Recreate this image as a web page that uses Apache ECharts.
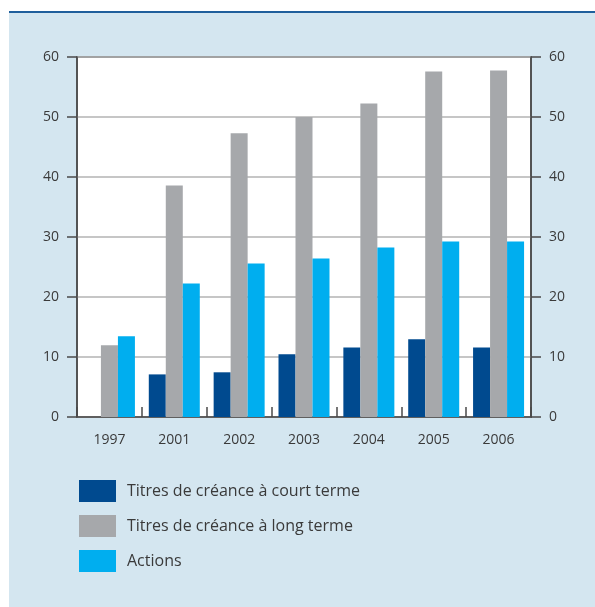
<!DOCTYPE html>
<html>
<head>
<meta charset="utf-8">
<script src="https://cdn.jsdelivr.net/npm/echarts@6/dist/echarts.min.js"></script>
<style>
html,body{margin:0;padding:0;background:#fff;}
#c{width:595px;height:607px;}
</style>
</head>
<body>
<div id="c"></div>
<script>
const categories = ['1997','2001','2002','2003','2004','2005','2006'];
const courtTerme = [null, 7.1, 7.45, 10.45, 11.6, 12.95, 11.6];
const longTerme = [11.95, 38.6, 47.3, 50.0, 52.25, 57.6, 57.75];
const actions = [13.45, 22.25, 25.6, 26.4, 28.25, 29.25, 29.25];
const seriesNames = ['Titres de créance à court terme','Titres de créance à long terme','Actions'];
const yTicks = {min:0, max:60, interval:10};

const chart = echarts.init(document.getElementById('c'), null, {renderer:'canvas'});
const font = '"Open Sans", "Noto Sans", sans-serif';
const axisColor = '#4a4a4a';
const textColor = '#3a3a3a';

function yAxis(pos){
  return {
    type:'value', position:pos, min:yTicks.min, max:yTicks.max, interval:yTicks.interval,
    axisLine:{show:true, lineStyle:{color:axisColor, width:1.5}},
    axisTick:{show:true, inside:false, length:10, lineStyle:{color:axisColor, width:1.5}},
    axisLabel:{margin:18, color:textColor, fontSize:14, fontFamily:font},
    splitLine:{show: pos==='left', lineStyle:{color:'#b3b3b3', width:1.5}}
  };
}

chart.setOption({
  animation:false,
  graphic:[
    {type:'rect', z:-10, shape:{x:9, y:12, width:586, height:595}, style:{fill:'#d4e6f0'}},
    {type:'rect', z:-9, shape:{x:9, y:11, width:586, height:2}, style:{fill:'#1f5f9c'}}
  ],
  grid:{left:77, right:64, top:57, bottom:190, show:true, backgroundColor:'#ffffff', borderColor:axisColor, borderWidth:1.5},
  legend:{
    orient:'vertical', left:74, top:475, itemWidth:37, itemHeight:22, itemGap:13,
    icon:'rect',
    textStyle:{fontSize:16, color:textColor, fontFamily:font, padding:[0,0,0,6]},
    data:seriesNames
  },
  xAxis:{
    type:'category', data:categories, boundaryGap:true,
    axisLine:{show:true, lineStyle:{color:axisColor, width:1.5}},
    axisTick:{show:true, inside:true, length:10, lineStyle:{color:axisColor, width:1.5}},
    axisLabel:{margin:16, color:textColor, fontSize:14, fontFamily:font},
    splitLine:{show:false}
  },
  yAxis:[yAxis('left'), yAxis('right')],
  series:[
    {name:seriesNames[0], type:'bar', data:courtTerme, barWidth:17, barGap:'0%', itemStyle:{color:'#004a8f'}},
    {name:seriesNames[1], type:'bar', data:longTerme, barWidth:17, barGap:'0%', itemStyle:{color:'#a6a8ab'}},
    {name:seriesNames[2], type:'bar', data:actions, barWidth:17, barGap:'0%', itemStyle:{color:'#00aeef'}}
  ]
});
</script>
</body>
</html>
